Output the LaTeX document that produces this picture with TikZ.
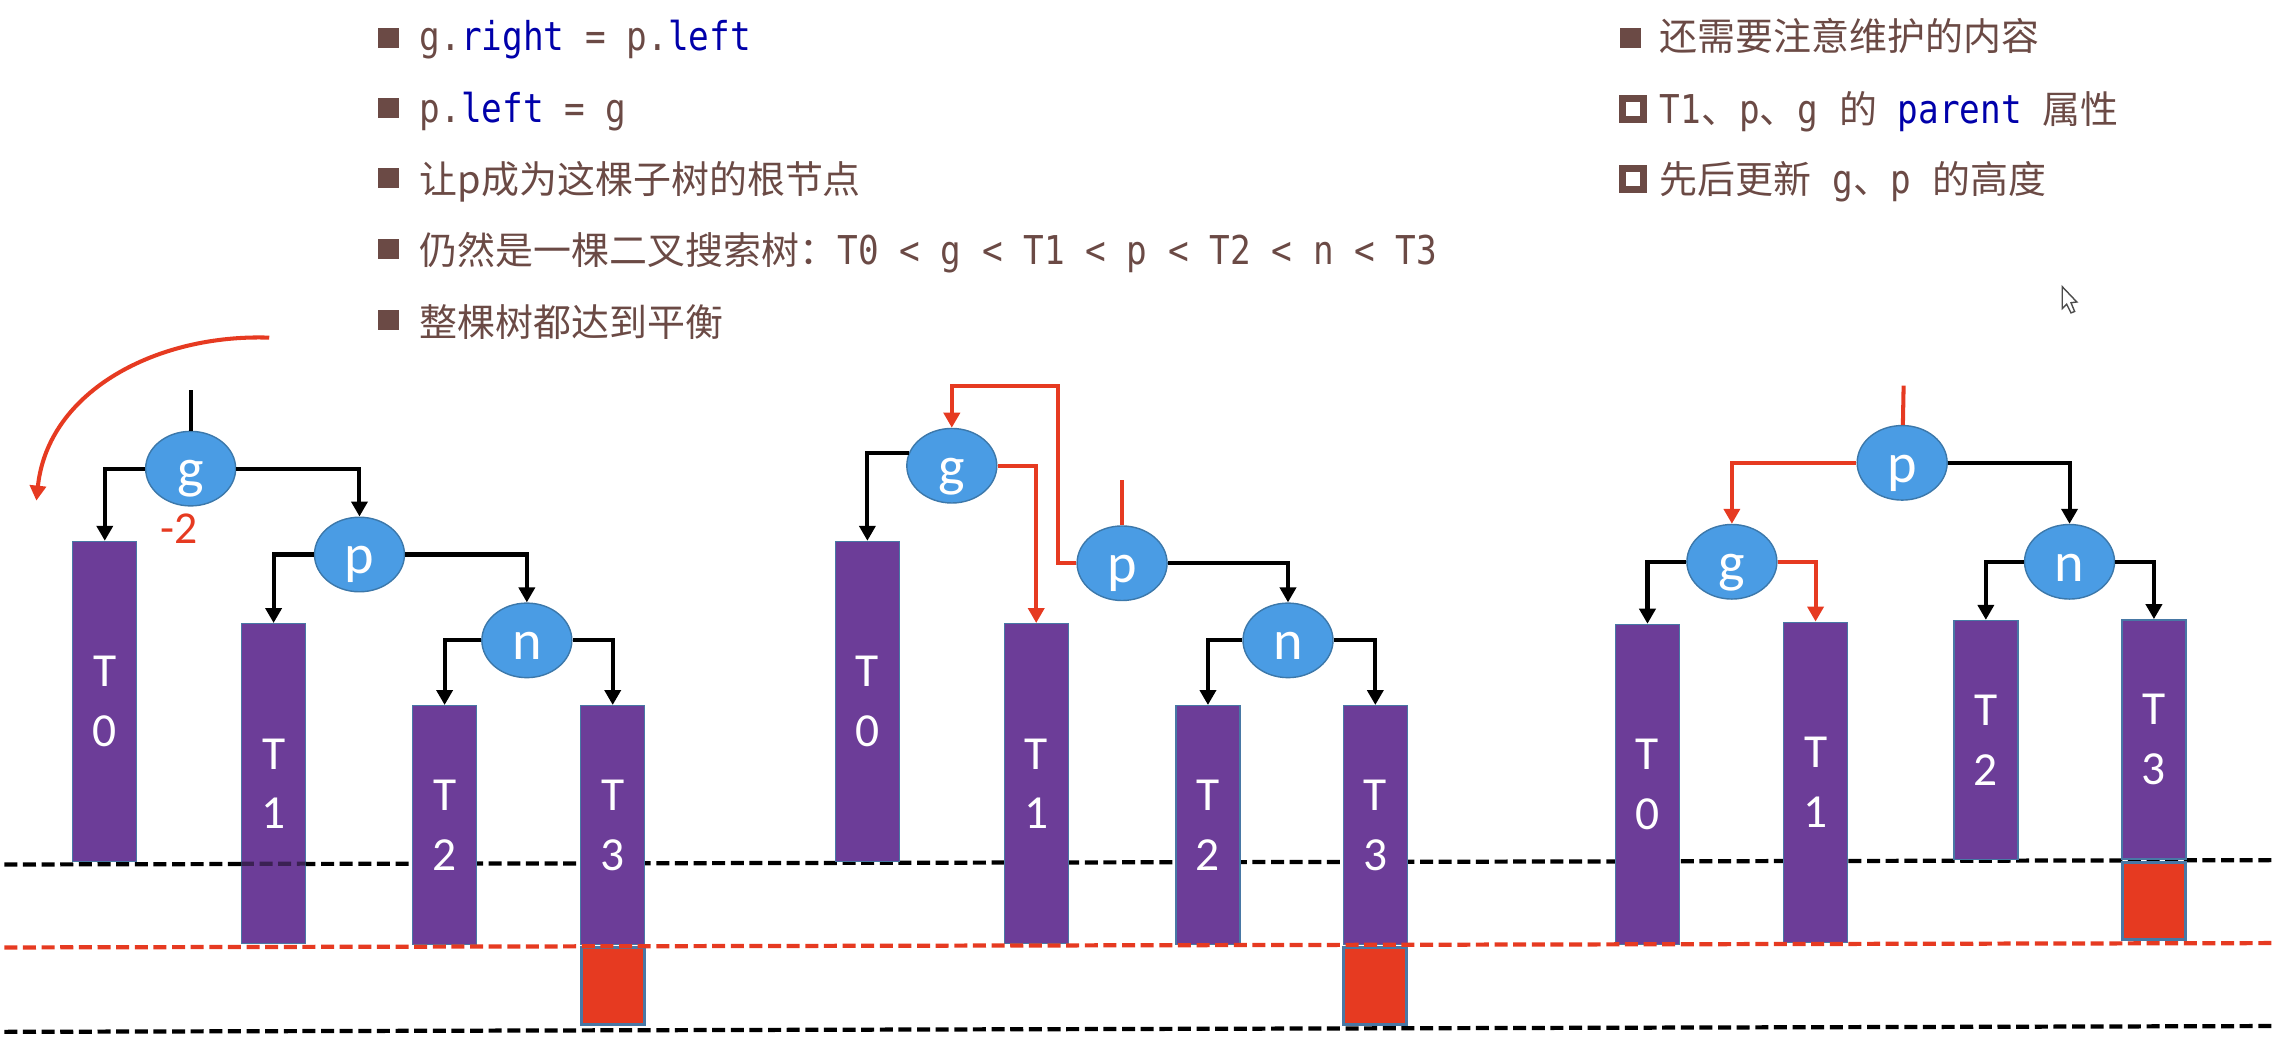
\documentclass[tikz,border=0pt]{standalone}
\usepackage{fontspec}
\setmainfont{Carlito}
\setmonofont[FakeStretch=0.865]{DejaVu Sans Mono}
\newfontfamily\cjk{Noto Sans CJK SC}
\usetikzlibrary{arrows.meta, shapes.geometric}
\definecolor{TextColor}{RGB}{107,74,69}
\definecolor{KeywordColor}{RGB}{0,0,170}
\definecolor{NodeColor}{RGB}{74,156,228}
\definecolor{NodeEdge}{RGB}{60,120,170}
\definecolor{BarColor}{RGB}{108,61,152}
\definecolor{BarEdge}{RGB}{72,120,165}
\definecolor{RayColor}{RGB}{230,58,33}
\newcommand{\cn}[1]{{\fontsize{10.8}{13}\cjk #1}}
\newcommand{\kw}[1]{\textcolor{KeywordColor}{#1}}
\tikzstyle{arrow} = [line width=1.15pt, black, -{Triangle[length=1.5mm,width=1.6mm]}]
\tikzstyle{ray} = [line width=1.15pt, RayColor, -{Triangle[length=1.5mm,width=1.6mm]}]
\tikzstyle{stub} = [line width=1.15pt]
\tikzstyle{treenode} = [ellipse, draw=NodeEdge, fill=NodeColor, text=white, inner sep=0pt, minimum width=0.9cm, minimum height=0.72cm, text height=13pt, text depth=2pt, font=\fontsize{16}{18}\selectfont]
\tikzstyle{treebar} = [rectangle, draw=BarEdge, fill=BarColor, text=white, inner sep=0pt, align=center, minimum width=0.64cm, font=\fontsize{13.5}{17}\selectfont]
\tikzstyle{tall} = [minimum height=3.2cm]
\tikzstyle{short} = [minimum height=2.39cm]
\tikzstyle{redbox} = [rectangle, draw=BarEdge, fill=RayColor, line width=0.8pt, inner sep=0pt, minimum width=0.63cm, minimum height=0.77cm]
\tikzstyle{blackdash} = [line width=1.2pt, black, dash pattern=on 3.7pt off 1.6pt]
\tikzstyle{reddash} = [line width=1.2pt, RayColor, dash pattern=on 3.7pt off 1.6pt]
\tikzstyle{line} = [anchor=base west, inner sep=0pt, text=TextColor, font=\fontsize{11.3}{13}\ttfamily]
\tikzstyle{fullmark} = [rectangle, fill=TextColor, inner sep=0pt, minimum width=0.21cm, minimum height=0.2cm]
\tikzstyle{openmark} = [rectangle, draw=TextColor, line width=1.8pt, fill=white, inner sep=0pt, minimum size=0.21cm]
\begin{document}
\begin{tikzpicture}[x=0.14554mm, y=-0.14554mm]
    \useasboundingbox (0,0) rectangle (1568,717.3);

    % Height levels
    \draw[blackdash] (3,594) -- (1562,591);
    \draw[blackdash] (3,709) -- (1562,705);

    % Text on the left
    \node[fullmark] (m1) at (267,26) {};
    \node[fullmark] (m2) at (267,74) {};
    \node[fullmark] (m3) at (267,122) {};
    \node[fullmark] (m4) at (267,171) {};
    \node[fullmark] (m5) at (267,220) {};
    \node[line] (l1) at (288,35) {g.\kw{right} = p.\kw{left}};
    \node[line] (l2) at (288,84) {p.\kw{left} = g};
    \node[line] (l3) at (288,133) {\cn{让p成为这棵子树的根节点}};
    \node[line] (l4) at (288,182) {\cn{仍然是一棵二叉搜索树：}T0 < g < T1 < p < T2 < n < T3};
    \node[line] (l5) at (288,231) {\cn{整棵树都达到平衡}};

    % Text on the right
    \node[fullmark] (m6) at (1120,26) {};
    \node[openmark] (m7) at (1122,75) {};
    \node[openmark] (m8) at (1122,123) {};
    \node[line] (r1) at (1140,35) {\cn{还需要注意维护的内容}};
    \node[line] (r2) at (1140,85) {T1\cn{、}p\cn{、}g \cn{的} \kw{parent} \cn{属性}};
    \node[line] (r3) at (1140,133) {\cn{先后更新} g\cn{、}p \cn{的高度}};

    % Mouse pointer
    \draw[black!70, fill=white, line width=0.4pt] (1417,197) -- (1417,212) -- (1420,209) -- (1423,215) -- (1425.5,214) -- (1423,208) -- (1427,207.5) -- cycle;

    % First tree
    \node[treebar, tall] (at0) at (72,482) {T\\0};
    \node[treebar, tall] (at1) at (188,538.5) {T\\1};
    \node[treebar, short] (at2) at (305.5,567) {T\\2};
    \node[treebar, short] (at3) at (421,567) {T\\3};
    \node[redbox] (ared) at (421,677.5) {};
    \node[treenode] (ag) at (131,322) {g};
    \node[treenode] (ap) at (247,381) {p};
    \node[treenode] (an) at (362,440) {n};
    \node[text=RayColor, inner sep=0pt, font=\fontsize{13}{16}\selectfont] (abal) at (123,363) {-2};
    \coordinate (atop) at (131,268);
    \coordinate (rotfrom) at (185,232);
    \coordinate (rotto) at (25,344);

    \draw[stub] (atop) -- (ag);
    \draw[arrow] (ag.west) -| (at0.north);
    \draw[arrow] (ag.east) -| (ap.north);
    \draw[arrow] (ap.west) -| (at1.north);
    \draw[arrow] (ap.east) -| (an.north);
    \draw[arrow] (an.west) -| (at2.north);
    \draw[arrow] (an.east) -| (at3.north);
    \draw[ray] (rotfrom) to[out=178, in=84] (rotto);

    % Second tree
    \node[treebar, tall] (bt0) at (596,482) {T\\0};
    \node[treebar, tall] (bt1) at (712,538.5) {T\\1};
    \node[treebar, short] (bt2) at (830,567) {T\\2};
    \node[treebar, short] (bt3) at (945,567) {T\\3};
    \node[redbox] (bred) at (945,677.5) {};
    \node[treenode] (bg) at (654,320) {g};
    \node[treenode] (bp) at (771,387) {p};
    \node[treenode] (bn) at (885,440) {n};
    \coordinate (btop) at (771,330);
    \coordinate (bbend) at (727,265);

    \draw[stub, RayColor] (btop) -- (bp);
    \draw[arrow] (bg.163) -| (bt0.north);
    \draw[ray] (bg.east) -| (bt1.north);
    \draw[ray] (bp.west) -| (bbend) -| (bg.north);
    \draw[arrow] (bp.east) -| (bn.north);
    \draw[arrow] (bn.west) -| (bt2.north);
    \draw[arrow] (bn.east) -| (bt3.north);

    % Third tree
    \node[treebar, tall] (ct0) at (1132,539) {T\\0};
    \node[treebar, tall] (ct1) at (1247.5,537.5) {T\\1};
    \node[treebar, short] (ct2) at (1364.5,508.5) {T\\2};
    \node[treebar, short] (ct3) at (1480,508) {T\\3};
    \node[redbox] (cred) at (1480,619) {};
    \node[treenode] (cp) at (1307,318) {p};
    \node[treenode] (cg) at (1190,386) {g};
    \node[treenode] (cn) at (1422,386) {n};
    \coordinate (ctop) at (1308,265);

    \draw[stub, RayColor] (ctop) -- (cp);
    \draw[ray] (cp.west) -| (cg.north);
    \draw[arrow] (cp.east) -| (cn.north);
    \draw[arrow] (cg.west) -| (ct0.north);
    \draw[ray] (cg.east) -| (ct1.north);
    \draw[arrow] (cn.west) -| (ct2.north);
    \draw[arrow] (cn.east) -| (ct3.north);

    % Level showing through, red level on top
    \draw[blackdash, opacity=0.45] (at1.west |- 0,593.5) -- (at1.east |- 0,593.4);
    \draw[reddash] (3,651) -- (1562,648);
\end{tikzpicture}
\end{document}
